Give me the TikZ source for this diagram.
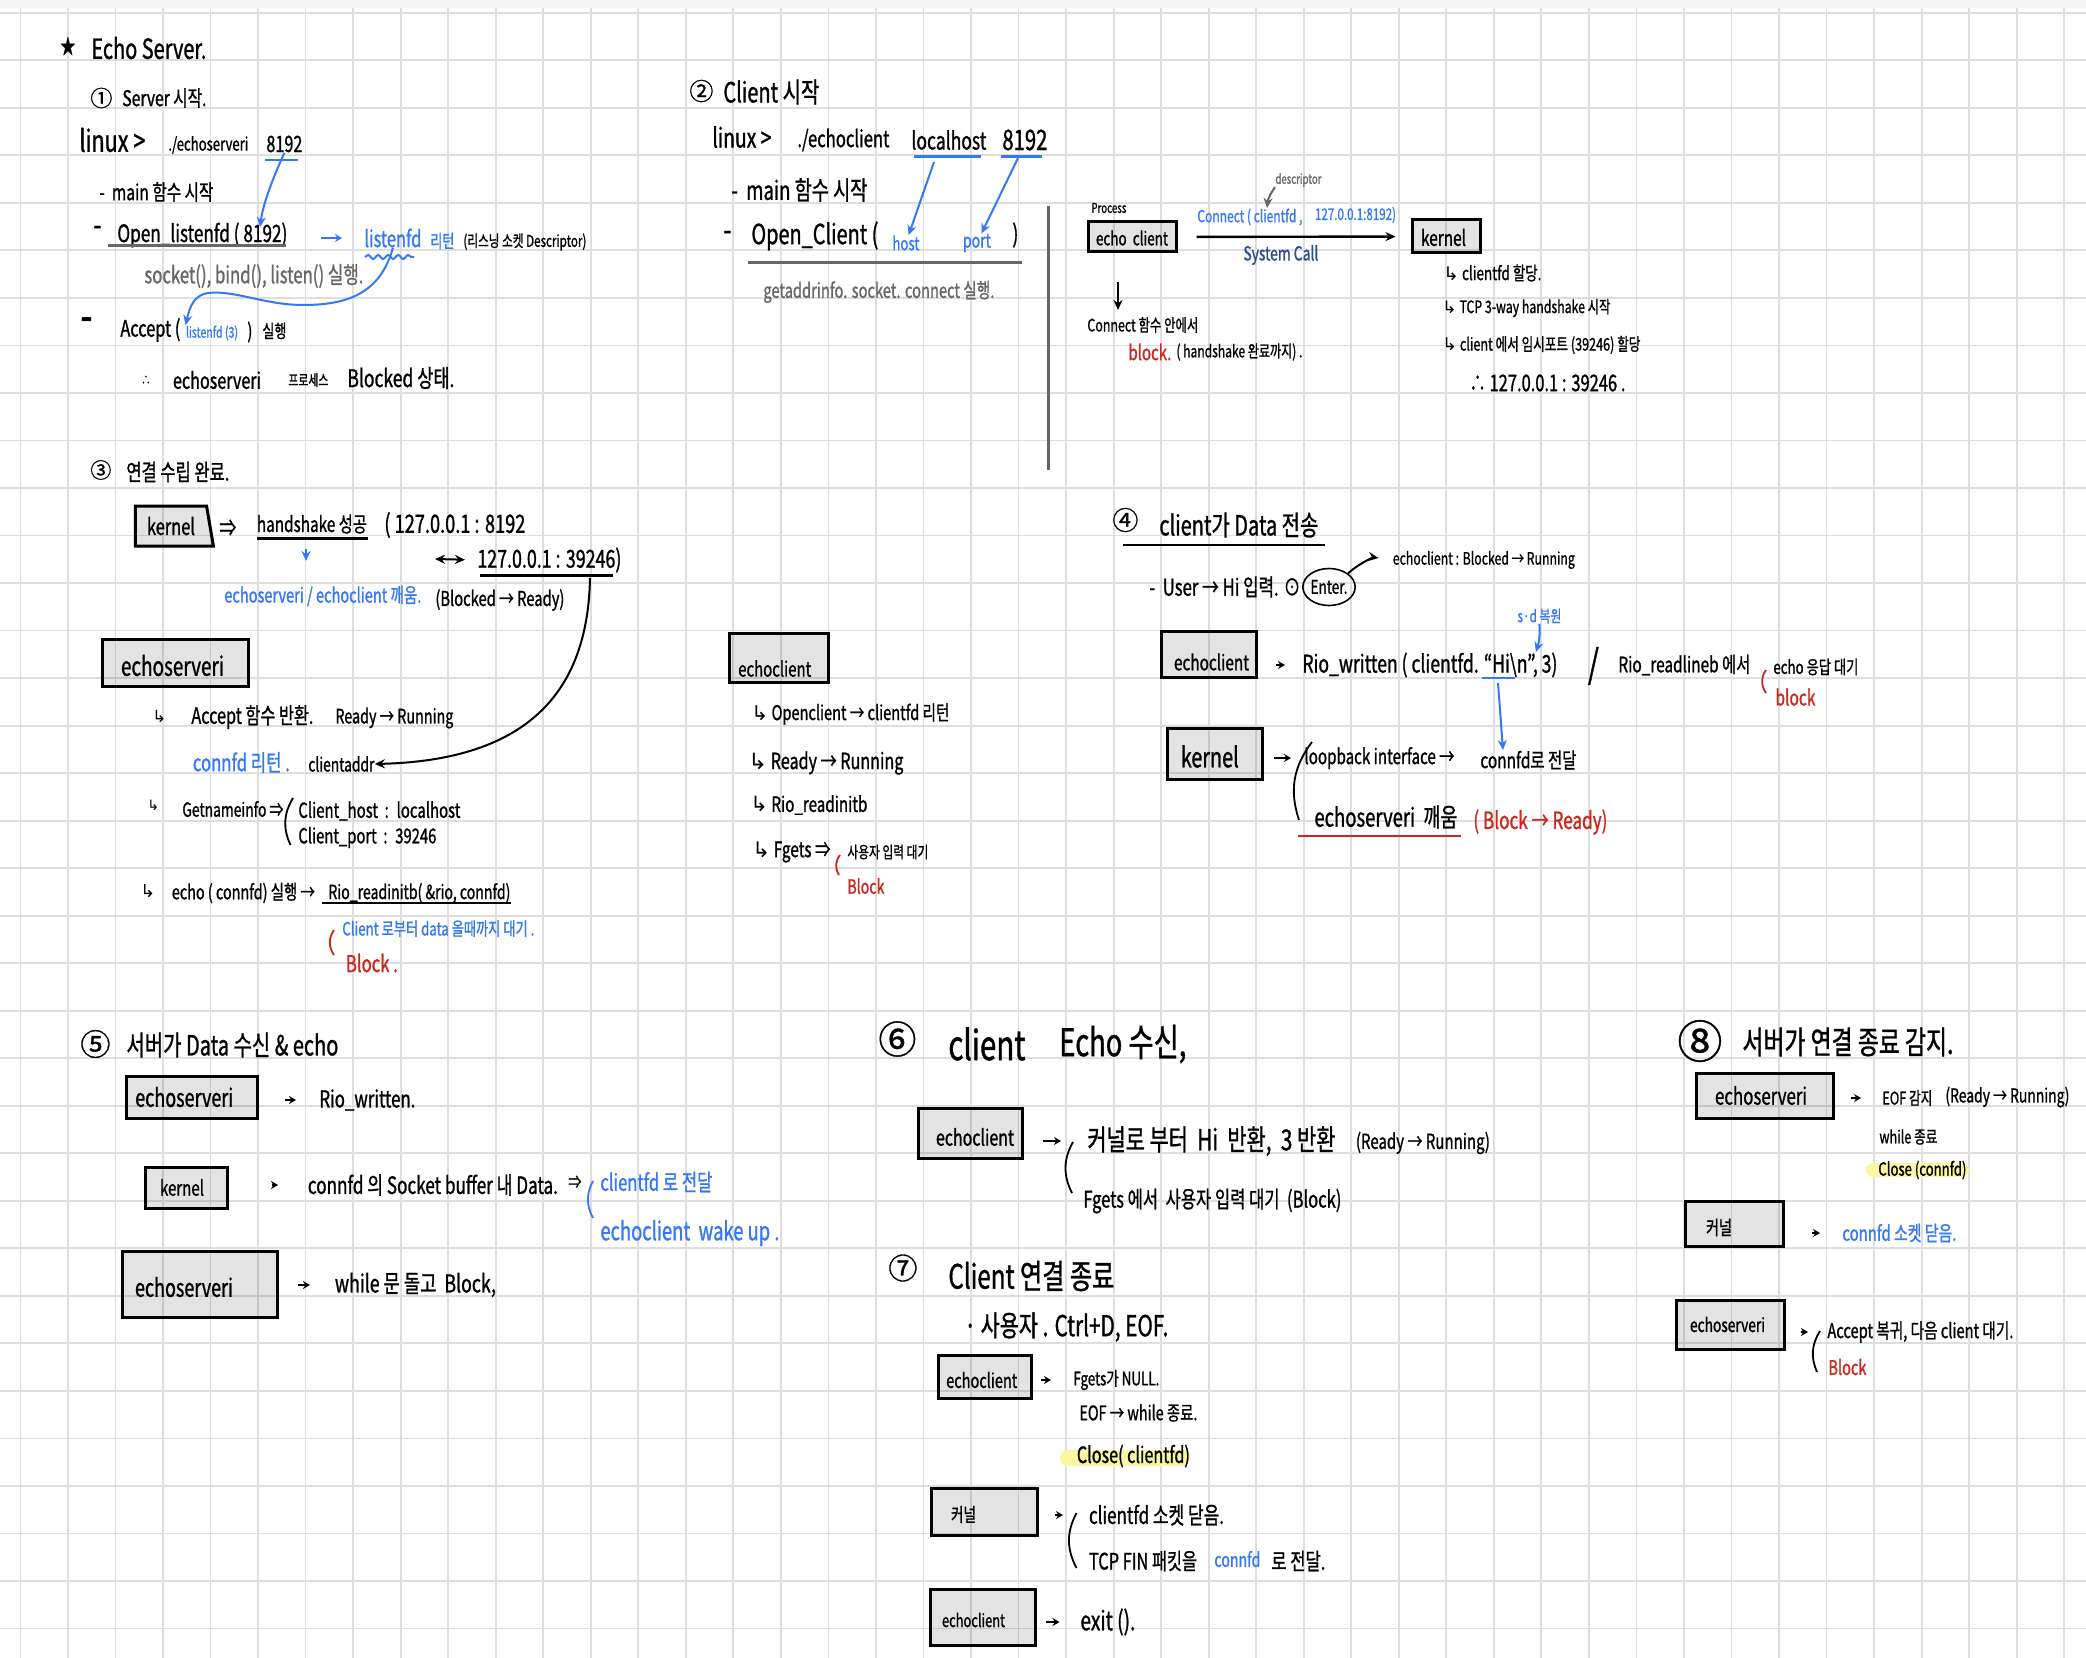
\documentclass[tikz,border=0pt]{standalone}
\usepackage{graphicx}
\usepackage{fontspec}
\setmainfont[FakeStretch=0.72,FakeBold=1]{Noto Sans CJK KR}
\newfontfamily\numfont[FakeBold=1]{Noto Sans CJK KR}
\newfontfamily\symfont{DejaVu Sans}
\usetikzlibrary{arrows.meta,positioning,shapes.geometric,decorations.pathmorphing}
\definecolor{penblue}{HTML}{3478F6}
\definecolor{pennavy}{HTML}{2A4D8F}
\definecolor{penred}{HTML}{C8281E}
\definecolor{pengray}{HTML}{666666}
\definecolor{gridgray}{HTML}{DEDEDE}
\definecolor{marker}{HTML}{FBF7A0}
\newlength{\pxu}
\setlength{\pxu}{0.5pt}
\newcommand{\hw}[3][0]{\raisebox{0pt}[\dimexpr\height+#1\pxu+#1\pxu\relax][\depth]{\resizebox{#2\pxu}{!}{#3}}}
\newcommand{\cnum}[2]{\hw{#1}{\numfont #2}}
\newcommand{\hook}{{\symfont ↳}}
\tikzset{
    note/.style={anchor=west, inner sep=0pt},
    bluenote/.style={note, text=penblue},
    rednote/.style={note, text=penred},
    graynote/.style={note, text=pengray},
    box/.style n args={3}{draw=black, line width=1.5pt, fill=black, fill opacity=0.11, text opacity=1,
        inner ysep=0pt, inner xsep=#3*0.5pt, text width=(#1-2*#3)*0.5pt, minimum height=#2*0.5pt, align=left},
    link/.style={-{Stealth[length=5pt,width=4.5pt]}, line width=1pt},
    bluelink/.style={link, draw=penblue},
    hop/.style 2 args={-{Stealth[length=3.5pt,width=4pt]}, line width=1.2pt, shorten <=#1*0.5pt, shorten >=#2*0.5pt},
    uline/.style={line width=1.3pt},
    paren/.style={line width=0.9pt},
    gridline/.style={gridgray, line width=0.9pt}
}
\begin{document}
\begin{tikzpicture}[x=0.5pt, y=-0.5pt]
\useasboundingbox (0,0) rectangle (2086,1658);
\fill[white] (0,0) rectangle (2086,1658);
\fill[black!4] (0,0) rectangle (2086,8);
\foreach \i in {0,...,43} \draw[gridline] ({20.4+47.53*\i},8) -- ({20.4+47.53*\i},1658);
\foreach \i in {0,...,34} \draw[gridline] (0,{12.8+47.52*\i}) -- (2086,{12.8+47.52*\i});

\node[note, fill=marker, rounded corners=4pt, minimum width=65pt, minimum height=8pt] (closemarkA) at (1059.5,1458) {};
\node[note, fill=marker, rounded corners=4pt, minimum width=52pt, minimum height=7pt] (closemarkB) at (1865,1170) {};

\node[note] (star) at (60,46) {\hw{15}{★}};
\node[note] (title) at (91,48) {\hw{115}{Echo Server.}};

\node[note] (numA) at (90,98) {\cnum{22}{①}};
\node[note] (headA) at (122,98) {\hw{84}{Server 시작.}};
\node[note] (shellA) at (79,140) {\hw{66}{linux >}};
\node[note] (cmdA) at (168,145) {\hw{80}{./echoserveri}};
\node[note] (portA) at (266,144) {\hw{36}{8192}};
\node[note] (mainA) at (99,192) {\hw{114}{- \ main 함수 시작}};
\node[note] (dashA) at (93,231) {\hw{8}{-}};
\node[note] (openlisten) at (117,235) {\hw{170}{Open\_listenfd ( 8192)}};
\node[bluenote] (listenfd) at (364,238) {\hw{57}{listenfd}};
\node[bluenote] (listenret) at (430,241) {\hw{24}{리턴}};
\node[note] (listendesc) at (463,242) {\hw{123}{(리스닝 소켓 Descriptor)}};
\node[graynote] (listencalls) at (144,276) {\hw{219}{socket(), bind(), listen() 실행.}};
\node[note] (dashB) at (80,325) {\hw{12}{-}};
\node[note] (accept) at (120,330) {\hw{60}{Accept (}};
\node[bluenote] (acceptfd) at (185.6,333) {\hw{52}{listenfd (3)}};
\node[note] (acceptend) at (247,332) {\hw{5}{)}};
\node[note] (acceptrun) at (262,331) {\hw{24}{실행}};
\node[note] (therefA) at (141,380) {\hw{9}{∴}};
\node[note] (blockA) at (172.6,380) {\hw{88}{echoserveri}};
\node[note] (blockB) at (288,380) {\hw{40}{프로세스}};
\node[note] (blockC) at (347,378) {\hw{107}{Blocked 상태.}};

\node[note] (numB) at (689,91) {\cnum{24}{②}};
\node[note] (headB) at (723,92) {\hw{96}{Client 시작}};
\node[note] (shellB) at (712,137) {\hw{59}{linux >}};
\node[note] (cmdB) at (797,140) {\hw{92}{./echoclient}};
\node[note] (hostB) at (911,140) {\hw{75}{localhost}};
\node[note] (portB) at (1002,140) {\hw{45}{8192}};
\node[note] (mainB) at (731,190) {\hw{136}{- \ main 함수 시작}};
\node[note] (dashC) at (723,236) {\hw{8}{-}};
\node[note] (openclient) at (751,236) {\hw{127}{Open\_Client (}};
\node[bluenote] (hostarg) at (892,243) {\hw{27}{host}};
\node[bluenote] (portarg) at (962.5,243) {\hw{28}{port}};
\node[note] (openend) at (1012,235) {\hw{6}{)}};
\node[graynote] (clientcalls) at (763,292) {\hw{231}{getaddrinfo. socket. connect 실행.}};

\node[note] (process) at (1091,208) {\hw{35}{Process}};
\node[box={88}{30}{8}] (echoA) at (1132,237) {\hw[1]{72}{echo client}};
\node[box={68}{33}{9}] (kernelA) at (1446,236.5) {\hw[1]{45}{kernel}};
\node[bluenote] (connectcall) at (1197,217) {\hw{105}{Connect ( clientfd ,}};
\node[bluenote] (connectaddr) at (1314.6,215) {\hw{81}{127.0.0.1:8192)}};
\node[graynote] (descriptor) at (1275,180) {\hw{46}{descriptor}};
\node[note, text=pennavy] (syscall) at (1243,255) {\hw{75}{System Call}};
\node[note] (kernA) at (1443,273) {\hw{98}{\hook{} clientfd 할당.}};
\node[note] (kernB) at (1442,308) {\hw{168}{\hook{} TCP 3-way handshake 시작}};
\node[note] (kernC) at (1442,345) {\hw{198}{\hook{} client 에서 임시포트 (39246) 할당}};
\node[note] (kernD) at (1469,383) {\hw{156}{∴ 127.0.0.1 : 39246 .}};
\node[note] (stall) at (1087,325) {\hw{111}{Connect 함수 안에서}};
\node[rednote] (stallred) at (1128,352) {\hw{43}{block.}};
\node[note] (stallwhy) at (1176,352) {\hw{126}{( handshake 완료까지) .}};

\node[note] (numC) at (90,470) {\cnum{21}{③}};
\node[note] (headC) at (126,472) {\hw{103}{연결 수립 완료.}};
\node[trapezium, trapezium left angle=90, trapezium right angle=76, trapezium stretches=true, draw=black, line width=1.5pt, fill=black, fill opacity=0.11, text opacity=1, inner sep=0pt, minimum width=39pt, minimum height=20pt] (kernelB) at (171,526) {\hw{48}{kernel}};
\node[note] (thenA) at (219,528) {\hw{17}{⇒}};
\node[note] (handshake) at (256.5,524) {\hw{110}{handshake 성공}};
\node[note] (srvaddr) at (384,525) {\hw{141}{( 127.0.0.1 : 8192}};
\node[note] (peeraddr) at (477,560) {\hw{144}{127.0.0.1 : 39246)}};
\node[bluenote] (wakeall) at (224,596) {\hw{197}{echoserveri / echoclient 깨움.}};
\node[note] (wakestate) at (435,600) {\hw{129}{(Blocked → Ready)}};
\node[box={146}{47}{19}] (srvbox) at (175,662.5) {\hw[3]{103}{echoserveri}};
\node[note] (hookA) at (152,717) {\hw{14}{\hook}};
\node[note] (acceptret) at (191,717) {\hw{122}{Accept 함수 반환.}};
\node[note] (runstate) at (335,718) {\hw{118}{Ready → Running}};
\node[bluenote] (connfdret) at (192.5,762.5) {\hw{97}{connfd 리턴 .}};
\node[note] (clientaddr) at (308,764) {\hw{66}{clientaddr}};
\node[note] (hookB) at (147,805) {\hw{12}{\hook}};
\node[note] (nameinfo) at (182,809) {\hw{101}{Getnameinfo ⇒}};
\node[note] (clienthost) at (298,811) {\hw{162}{Client\_host \ : \ localhost}};
\node[note] (clientport) at (298,837.5) {\hw{138}{Client\_port \ : \ 39246}};
\node[note] (hookC) at (140,891) {\hw{15}{\hook}};
\node[note] (echocall) at (171.5,893) {\hw{143}{echo ( connfd) 실행 →}};
\node[note] (rioinit) at (328,893) {\hw{182}{Rio\_readinitb( \&rio, connfd)}};
\node[bluenote] (waitdata) at (342,928.6) {\hw{192}{Client 로부터 data 올때까지 대기 .}};
\node[rednote] (blockD) at (345.5,963) {\hw{52}{Block .}};

\node[box={99.5}{49}{9}] (echoB) at (779,657.5) {\hw[11]{73}{echoclient}};
\node[note] (cliA) at (751,714) {\hw{198}{\hook{} Openclient → clientfd 리턴}};
\node[note] (cliB) at (748,763) {\hw{155}{\hook{} Ready → Running}};
\node[note] (cliC) at (750,805) {\hw{117}{\hook{} Rio\_readinitb}};
\node[note] (cliD) at (752,852) {\hw{78}{\hook{} Fgets ⇒}};
\node[note] (cliE) at (847,852) {\hw{81}{사용자 입력 대기}};
\node[rednote] (blockE) at (847,886) {\hw{37}{Block}};

\node[note] (numD) at (1112,520) {\cnum{26}{④}};
\node[note] (headD) at (1159,525) {\hw{159}{client가 Data 전송}};
\node[note] (userA) at (1149,587) {\hw{151}{- \ User → Hi 입력. ⊙}};
\node[ellipse, draw=black, line width=0.8pt, inner sep=0pt, minimum width=24.5pt, minimum height=18.5pt] (enter) at (1329,587) {\hw{37}{Enter.}};
\node[note] (runningnote) at (1392.4,560) {\hw{182}{echoclient : Blocked → Running}};
\node[bluenote] (sdnote) at (1517,616) {\hw{44}{s·d 복원}};
\node[box={95}{46}{13}] (echoC) at (1208.5,654) {\hw[8]{75}{echoclient}};
\node[note] (riowrite) at (1302,665) {\hw{255}{Rio\_written ( clientfd. ``Hi\textbackslash n'', 3)}};
\node[note] (slash) at (1587.5,666) {\hw{11}{/}};
\node[note] (rioread) at (1618,665) {\hw{132}{Rio\_readlineb 에서}};
\node[note] (waitecho) at (1773,667) {\hw{85}{echo 응답 대기}};
\node[rednote] (blockF) at (1775,697) {\hw{40}{block}};
\node[box={94.5}{51}{13}] (kernelC) at (1215,753.5) {\hw[3]{58}{kernel}};
\node[note] (loopback) at (1304,758) {\hw{150}{loopback interface →}};
\node[note] (connfdsend) at (1480,760) {\hw{96}{connfd로 전달}};
\node[note] (wakesrv) at (1314,817) {\hw{143}{echoserveri \ 깨움}};
\node[rednote] (wakered) at (1473,822) {\hw{134}{( Block → Ready)}};

\node[note] (numE) at (80,1044) {\cnum{30}{⑤}};
\node[note] (headE) at (126,1045) {\hw{212}{서버가 Data 수신 \& echo}};
\node[box={131.5}{42}{9}] (srvA) at (192,1097) {\hw{98}{echoserveri}};
\node[note] (riowritten) at (319,1100) {\hw{96}{Rio\_written.}};
\node[box={82}{41}{15}] (kernelD) at (186,1187.5) {\hw{44}{kernel}};
\node[note] (sockbuf) at (307.5,1185) {\hw{250}{connfd 의 Socket buffer 내 Data.}};
\node[note] (thenB) at (568,1182) {\hw{13}{⇒}};
\node[bluenote] (sendfd) at (600,1182) {\hw{112}{clientfd 로 전달}};
\node[bluenote] (wakeup) at (600,1233) {\hw{179}{echoclient \ wake up .}};
\node[box={155}{66}{13}] (srvB) at (199.5,1284) {\hw[3]{98}{echoserveri}};
\node[note] (whileblock) at (334.5,1285) {\hw{161}{while 문 돌고 \ Block,}};

\node[note] (numF) at (878,1039) {\cnum{38}{⑥}};
\node[note] (headF) at (948,1044) {\hw{77}{client}};
\node[note] (headFb) at (1059,1044) {\hw{127}{Echo 수신,}};
\node[box={104}{50}{18}] (echoD) at (970,1133) {\hw[4]{78}{echoclient}};
\node[note] (hiret) at (1087,1141) {\hw{248}{커널로 부터 \ Hi \ 반환, \ 3 반환}};
\node[note] (hirun) at (1355.5,1143) {\hw{134}{(Ready → Running)}};
\node[note] (fgetswait) at (1083,1201) {\hw{258}{Fgets 에서 \ 사용자 입력 대기 \ (Block)}};

\node[note] (numG) at (888,1268) {\cnum{29}{⑦}};
\node[note] (headG) at (948,1276) {\hw{166}{Client 연결 종료}};
\node[note] (ctrld) at (964,1327) {\hw{204}{· 사용자 . Ctrl+D, EOF.}};
\node[box={93.5}{43.4}{8}] (echoE) at (985,1377) {\hw[3]{71}{echoclient}};
\node[note] (fgetsnull) at (1073,1380) {\hw{86}{Fgets가 NULL.}};
\node[note] (eofend) at (1079,1413) {\hw{118}{EOF → while 종료.}};
\node[note] (closecli) at (1076.5,1456) {\hw{113}{Close( clientfd)}};
\node[box={106}{47}{20}] (kernelE) at (984,1511.5) {\hw[3]{25}{커널}};
\node[note] (sockclose) at (1088.6,1515) {\hw{135}{clientfd 소켓 닫음.}};
\node[note] (finsend) at (1088.6,1561) {\hw{108}{TCP FIN 패킷을}};
\node[bluenote] (finfd) at (1214,1559) {\hw{46}{connfd}};
\node[note] (finend) at (1271,1561) {\hw{54}{로 전달.}};
\node[box={105}{56}{12}] (echoF) at (982.5,1617) {\hw[3]{63}{echoclient}};
\node[note] (exitcall) at (1080,1622) {\hw{55}{exit ().}};

\node[note] (numH) at (1677,1041) {\cnum{45}{⑧}};
\node[note] (headH) at (1742,1042) {\hw{211}{서버가 연결 종료 감지.}};
\node[box={137}{45}{19}] (srvC) at (1764.5,1095.5) {\hw{92}{echoserveri}};
\node[note] (eofseen) at (1882,1098) {\hw{50}{EOF 감지}};
\node[note] (eofrun) at (1945,1097) {\hw{124}{(Ready → Running)}};
\node[note] (whileend) at (1879,1137) {\hw{58}{while 종료}};
\node[note] (closesrv) at (1878,1170) {\hw{88}{Close (connfd)}};
\node[box={98}{45}{21}] (kernelF) at (1734,1223.5) {\hw[4]{26}{커널}};
\node[bluenote] (connclose) at (1842,1233) {\hw{114}{connfd 소켓 닫음.}};
\node[box={108}{49}{14}] (srvD) at (1730,1324.5) {\hw{75}{echoserveri}};
\node[note] (acceptback) at (1827,1332) {\hw{186}{Accept 복귀, 다음 client 대기.}};
\node[rednote] (blockG) at (1828,1367) {\hw{38}{Block}};

\coordinate (openin) at (260,227);
\coordinate (hostfrom) at (934,162);
\coordinate (portfrom) at (1018,158);
\coordinate (descin) at (1267,208);
\coordinate (stallfrom) at (1118,282);
\coordinate (stallto) at (1118,310);
\coordinate (hsfrom) at (306,549);
\coordinate (hsto) at (306,561);
\coordinate (peerleft) at (435,559);
\coordinate (peerfoot) at (590,578);
\coordinate (sdin) at (1536,652);
\coordinate (hifoot) at (1498,683);
\coordinate (connfdin) at (1503,750);

\draw[bluelink] (portA.south) .. controls (270,185) and (263,205) .. (openin);
\draw[bluelink] (listenfd.south) .. controls (380,295) and (345,305) .. (303,305) .. controls (265,305) and (235,290) .. (208,293) .. controls (195,295) and (190,305) .. (acceptfd.north west);
\draw[hop={33}{22}, draw=penblue] (openlisten.east |- listenfd.west) -- (listenfd.west);
\draw[bluelink] (hostfrom) -- (hostarg);
\draw[bluelink] (portfrom) -- (portarg);
\draw[link, line width=1.2pt, shorten <=9.5pt, shorten >=7.5pt] (echoA) -- (kernelA);
\draw[link, draw=pengray] (descriptor.south west) to[bend right=15] (descin);
\draw[link] (stallfrom) -- (stallto);
\draw[bluelink] (hsfrom) -- (hsto);
\draw[{Stealth[length=5pt,width=4.5pt]}-{Stealth[length=5pt,width=4.5pt]}, line width=1pt, shorten >=6pt] (peerleft) -- (peeraddr.west);
\draw[link] (peerfoot) .. controls (588,680) and (540,760) .. (clientaddr.east);
\draw[link, shorten >=7pt] (enter.north east) to[bend left=25] (runningnote.west);
\draw[bluelink] (sdnote.south) to[bend left=10] (sdin);
\draw[bluelink] (hifoot) -- (connfdin);

\draw[hop={18}{17}] (echoC.east |- riowrite.west) -- (riowrite.west);
\draw[hop={10}{13}] (kernelC.east |- loopback.west) -- (loopback.west);
\draw[hop={25.5}{23}] (srvA.east |- riowritten.west) -- (riowritten.west);
\draw[hop={43}{29.5}] (kernelD.east |- sockbuf.west) -- (sockbuf.west);
\draw[hop={19}{24.5}] (srvB.east |- whileblock.west) -- (whileblock.west);
\draw[hop={19}{26}] (echoD.east |- hiret.west) -- (hiret.west);
\draw[hop={8}{22}] (echoE.east |- fgetsnull.west) -- (fgetsnull.west);
\draw[hop={16}{25.6}] (kernelE.east |- sockclose.west) -- (sockclose.west);
\draw[hop={9}{20.5}] (echoF.east |- exitcall.west) -- (exitcall.west);
\draw[hop={16}{21}] (srvC.east |- eofseen.west) -- (eofseen.west);
\draw[hop={27}{22}] (kernelF.east |- connclose.west) -- (connclose.west);
\draw[hop={15}{19}] (srvD.east |- acceptback.west) -- (acceptback.west);

\foreach \xa/\xb/\yy in {256.5/368.4/538.6, 480/613/575.7, 322/511/903, 1123/1325/545} \draw[uline] (\xa,\yy) -- (\xb,\yy);
\foreach \xa/\xb/\yy in {107.5/286/245.7, 748/1022/262.7} \draw[uline, pengray] (\xa,\yy) -- (\xb,\yy);
\foreach \xa/\xb/\yy in {265/298/160, 914/981/156.7, 1001/1042/156.7, 1482/1515/678} \draw[uline, penblue] (\xa,\yy) -- (\xb,\yy);
\draw[uline, penred] (1298,836) -- (1461,836);
\draw[penblue, line width=1pt, decorate, decoration={snake, amplitude=1pt, segment length=5pt}] (365,257) -- (414,257);
\draw[pengray, line width=1.5pt] (1048,206) -- (1048,470);

\foreach \xa/\ya/\xb/\yb in {293/798/290.5/845, 1312/742/1299/820, 1073/1142/1072/1193, 1076.5/1513/1076.5/1568, 1820/1331/1817/1372} \draw[paren] (\xa,\ya) to[bend right=28] (\xb,\yb);
\foreach \xa/\ya/\xb/\yb in {334/930/334/955, 840/855/839/875, 1766/670/1766/693} \draw[paren, penred] (\xa,\ya) to[bend right=35] (\xb,\yb);
\draw[paren, penblue] (593,1181) to[bend right=28] (593,1218);
\end{tikzpicture}
\end{document}
